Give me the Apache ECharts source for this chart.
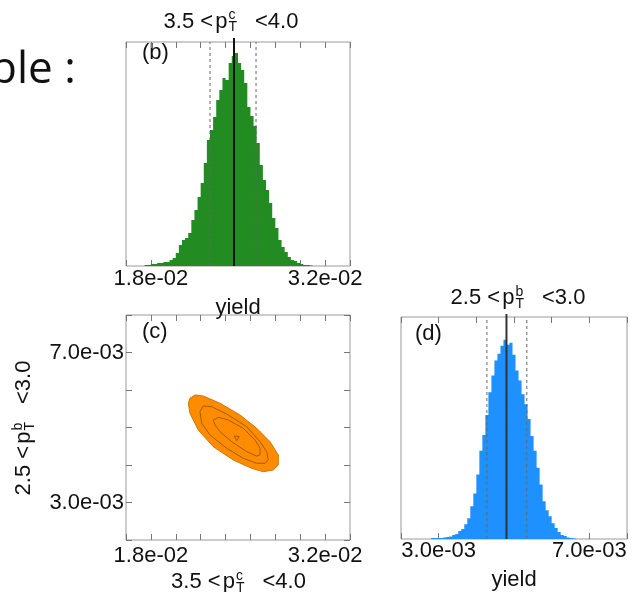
<!DOCTYPE html>
<html><head><meta charset="utf-8">
<script src="https://cdn.jsdelivr.net/npm/echarts@6/dist/echarts.min.js"></script>
<style>html,body{margin:0;padding:0;background:#fff}#c{width:633px;height:592px}</style>
</head><body><div id="c"></div>
<script>
// ---------------- data ----------------
// panel (b): histogram of yield, 3.5 < pT(c) < 4.0
const binStartB = 0.0175;
const binWidthB = 0.00025;
const countsB = [1,1,2,2,3,3,4,4,6,8,13,21,26,28,33,46,56,69,83,103,126,136,149,166,176,188,186,203,210,213,203,196,183,159,150,140,123,101,86,76,63,48,38,26,19,14,9,6,5,3,2,1,1,0.5];
const meanB = 0.02468;
const bandB = [0.02275, 0.02645];

// panel (d): histogram of yield, 2.5 < pT(b) < 3.0
const binStartD = 0.0028;
const binWidthD = 0.00008;
const countsD = [1,1,1,1,1.5,2,2.5,4,5,8,10,15,21,33,46,65,89,105,125,148,165,180,187,195,201,196,198,186,170,160,146,136,121,104,89,72,55,38,29,23,16,11,7,4,3,1.5,1,0.5];
const meanD = 0.0048;
const bandD = [0.00428, 0.00534];

// panel (c): 2D contours (x = yield pT(c), y = yield pT(b))
const contourOuter = [[0.02114,0.005779],[0.021545,0.005867],[0.022212,0.00584],[0.023554,0.005646],[0.025161,0.005333],[0.026503,0.004979],[0.027572,0.004622],[0.028239,0.004267],[0.02824,0.004],[0.027837,0.003867],[0.027033,0.003822],[0.026101,0.003912],[0.024623,0.004133],[0.023015,0.004488],[0.02181,0.004933],[0.02114,0.005379],[0.021006,0.005646]];
const contourMiddle = [[0.021947,0.005422],[0.022212,0.005574],[0.022887,0.005555],[0.024221,0.005333],[0.025699,0.005022],[0.026768,0.004622],[0.027307,0.004355],[0.027435,0.004133],[0.02717,0.004046],[0.026503,0.004046],[0.025426,0.004179],[0.024092,0.004446],[0.02275,0.0048],[0.022083,0.005112]];
const contourInner = [[0.023015,0.0052],[0.023417,0.005272],[0.024221,0.0052],[0.025426,0.004979],[0.026366,0.004667],[0.026768,0.004446],[0.026768,0.004267],[0.026503,0.00424],[0.025699,0.004355],[0.024494,0.004622],[0.023554,0.004888],[0.023152,0.005067]];
const contourCore = [[0.024703,0.004773],[0.025105,0.004755],[0.024896,0.004649]];

// axes and tick labels
const rangeC = [0.016, 0.034], stepC = 0.002;
const rangeBq = [0.002, 0.008], stepBq = 0.001;
const histMax = 224;
const ticksC = [0.018, 0.032], tickLabelsC = ['1.8e-02', '3.2e-02'];
const ticksBq = [0.003, 0.007], tickLabelsBq = ['3.0e-03', '7.0e-03'];

// texts
const labelC = ['3.5 <', 'p', 'c', 'T', '<4.0'];
const labelBq = ['2.5 <', 'p', 'b', 'T', '<3.0'];
const panelLetters = ['(b)', '(c)', '(d)'];
const yieldName = 'yield';
const slideText = 'ble :';

// ---------------- helpers ----------------
const FONT = '"Liberation Sans"';
const FRAME = '#9a9a9a', TICK = '#777', TXT = '#111';
const GREEN = '#228B22', BLUE = '#1E90FF', ORANGE = '#FF8C00', CLINE = '#a35d00';

const cv = document.createElement('canvas').getContext('2d');
function measure(t, size) { cv.font = size + 'px ' + FONT; return cv.measureText(t).width; }

function histData(start, width, counts) {
  return counts.map((c, i) => [start + i * width, c]);
}
function fmt(ticks, labels) {
  return function (v) {
    for (let i = 0; i < ticks.length; i++) if (Math.abs(ticks[i] - v) < 1e-9) return labels[i];
    return '';
  };
}
function textEl(t, x, y, size, align, family) {
  return { type: 'text', x: x, y: y, style: { text: t, font: size + 'px ' + (family || FONT), fill: TXT, textAlign: align || 'left', textVerticalAlign: 'middle', verticalAlign: 'middle' } };
}
function mathLabel(parts, cx, cy, rotation) {
  const fM = 22, fS = 14, gapS = 1, gapP = 18;
  const wPre = measure(parts[0], fM), wBase = measure(parts[1], fM);
  const wSc = Math.max(measure(parts[2], fS), measure(parts[3], fS));
  const wPost = measure(parts[4], fM);
  const total = wPre + 2 + wBase + gapS + wSc + gapP + wPost;
  let x = -total / 2;
  const ch = [];
  ch.push(textEl(parts[0], x, 0, fM)); x += wPre + 2;
  ch.push(textEl(parts[1], x, 0, fM)); x += wBase;
  ch.push(textEl(parts[2], x + gapS, -6, fS));
  ch.push(textEl(parts[3], x + gapS, 6, fS));
  x += gapS + wSc + gapP;
  ch.push(textEl(parts[4], x, 0, fM));
  return { type: 'group', x: cx, y: cy, rotation: rotation || 0, children: ch };
}
function vline(yTop, style) {
  return function (params, api) {
    const x = api.value(0);
    const p0 = api.coord([x, 0]);
    const p1 = api.coord([x, yTop]);
    return { type: 'line', shape: { x1: p0[0], y1: p0[1], x2: p1[0], y2: p1[1] }, style: style };
  };
}
function poly(points, style) {
  return function (params, api) {
    if (params.dataIndex !== 0) return null;
    return { type: 'polygon', shape: { points: points.map(p => api.coord(p)) }, style: style };
  };
}
// histogram drawn as one stepped polygon through the axis scales
function histPoly(start, width, counts, color) {
  return function (params, api) {
    if (params.dataIndex !== 0) return null;
    const pts = [api.coord([start, 0])];
    counts.forEach((c, i) => {
      pts.push(api.coord([start + i * width, c]));
      pts.push(api.coord([start + (i + 1) * width, c]));
    });
    pts.push(api.coord([start + counts.length * width, 0]));
    return { type: 'polygon', shape: { points: pts }, style: { fill: color } };
  };
}
function xAx(grid, range, step, pos, ticks, labels, margin) {
  return {
    type: 'value', gridIndex: grid, position: pos, min: range[0], max: range[1], interval: step,
    axisLine: { show: false }, splitLine: { show: false },
    axisTick: { show: true, inside: true, length: 6, lineStyle: { color: TICK } },
    axisLabel: labels ? { show: true, interval: 0, formatter: fmt(ticks, labels), fontFamily: FONT, fontSize: 22, color: TXT, margin: margin } : { show: false }
  };
}

const grids = [
  { left: 126, top: 42, width: 224, height: 224 },
  { left: 126, top: 315, width: 224, height: 225 },
  { left: 401, top: 317, width: 226, height: 224 }
].map(g => Object.assign(g, { show: true, borderColor: FRAME, borderWidth: 1, backgroundColor: 'transparent' }));

const nameStyle = { fontFamily: FONT, fontSize: 22, color: TXT };
const xAxes = [
  Object.assign(xAx(0, rangeC, stepC, 'bottom', ticksC, tickLabelsC, 2), { name: yieldName, nameLocation: 'middle', nameGap: 31, nameTextStyle: nameStyle }),
  xAx(0, rangeC, stepC, 'top'),
  xAx(1, rangeC, stepC, 'bottom', ticksC, tickLabelsC, 5),
  xAx(1, rangeC, stepC, 'top'),
  Object.assign(xAx(2, rangeBq, stepBq, 'bottom', ticksBq, tickLabelsBq, 1), { name: yieldName, nameLocation: 'middle', nameGap: 30, nameTextStyle: nameStyle }),
  xAx(2, rangeBq, stepBq, 'top')
];
const yAxes = [
  { type: 'value', gridIndex: 0, min: 0, max: histMax, show: false },
  xAx(1, rangeBq, stepBq, 'left', ticksBq, tickLabelsBq, 2),
  xAx(1, rangeBq, stepBq, 'right'),
  { type: 'value', gridIndex: 2, min: 0, max: histMax, show: false }
];

const dashStyle = { stroke: '#666', lineWidth: 1, lineDash: [3, 3] };
const series = [
  { type: 'custom', xAxisIndex: 0, yAxisIndex: 0, data: histData(binStartB, binWidthB, countsB), renderItem: histPoly(binStartB, binWidthB, countsB, GREEN), z: 2 },
  { type: 'custom', xAxisIndex: 0, yAxisIndex: 0, data: bandB.map(v => [v, 0]), renderItem: vline(histMax, dashStyle), z: 3, clip: false },
  { type: 'custom', xAxisIndex: 0, yAxisIndex: 0, data: [[meanB, 0]], renderItem: vline(histMax + 4, { stroke: '#111', lineWidth: 2 }), z: 4, clip: false },

  { type: 'custom', xAxisIndex: 4, yAxisIndex: 3, data: histData(binStartD, binWidthD, countsD), renderItem: histPoly(binStartD, binWidthD, countsD, BLUE), z: 2 },
  { type: 'custom', xAxisIndex: 4, yAxisIndex: 3, data: bandD.map(v => [v, 0]), renderItem: vline(histMax, dashStyle), z: 3, clip: false },
  { type: 'custom', xAxisIndex: 4, yAxisIndex: 3, data: [[meanD, 0]], renderItem: vline(histMax + 3, { stroke: '#333', lineWidth: 2 }), z: 4, clip: false },

  { type: 'custom', xAxisIndex: 2, yAxisIndex: 1, data: contourOuter, renderItem: poly(contourOuter, { fill: ORANGE, stroke: '#d07400', lineWidth: 1 }), z: 2 },
  { type: 'custom', xAxisIndex: 2, yAxisIndex: 1, data: contourMiddle, renderItem: poly(contourMiddle, { fill: 'none', stroke: CLINE, lineWidth: 1 }), z: 3 },
  { type: 'custom', xAxisIndex: 2, yAxisIndex: 1, data: contourInner, renderItem: poly(contourInner, { fill: 'none', stroke: CLINE, lineWidth: 1 }), z: 3 },
  { type: 'custom', xAxisIndex: 2, yAxisIndex: 1, data: contourCore, renderItem: poly(contourCore, { fill: 'none', stroke: CLINE, lineWidth: 1 }), z: 3 }
];

const graphics = [
  { type: 'text', x: -10, y: 70, style: { text: slideText, font: '44px "Open Sans"', fill: '#111', textVerticalAlign: 'middle', verticalAlign: 'middle' } },
  mathLabel(labelC, 231, 21.5),
  mathLabel(labelBq, 518, 298),
  mathLabel(labelC, 238.5, 582),
  mathLabel(labelBq, 24, 428, Math.PI / 2),
  textEl(panelLetters[0], 142, 53, 22),
  textEl(panelLetters[1], 142, 332, 22),
  textEl(panelLetters[2], 415, 334, 22)
];

const chart = echarts.init(document.getElementById('c'), null, { renderer: 'canvas' });
chart.setOption({ animation: false, backgroundColor: '#fff', grid: grids, xAxis: xAxes, yAxis: yAxes, series: series, graphic: { elements: graphics } });
</script></body></html>
